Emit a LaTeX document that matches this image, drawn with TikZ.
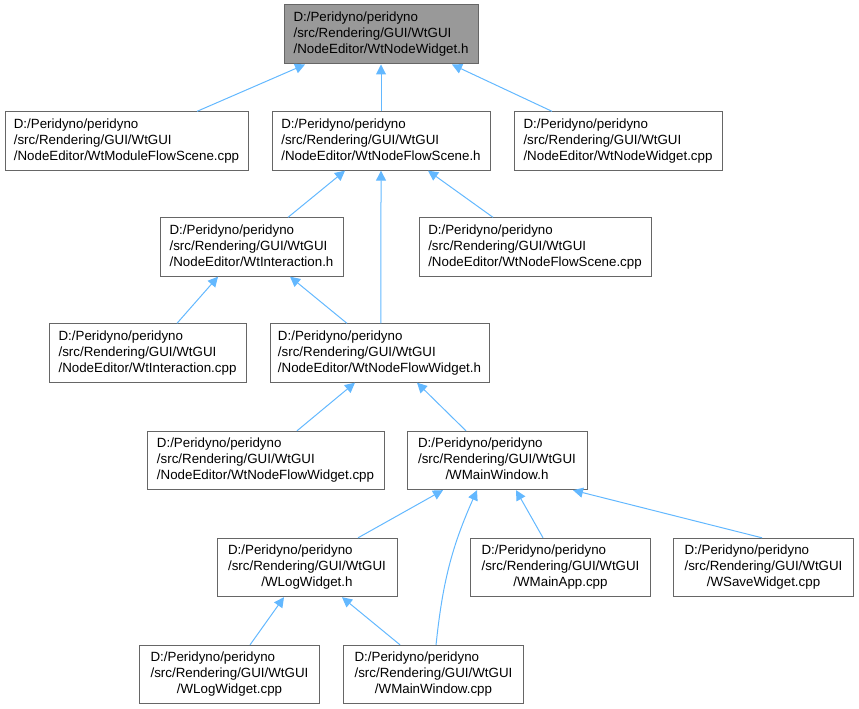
\documentclass[tikz,border=0pt]{standalone}
\usepackage{fontspec}
\setmainfont{Liberation Sans}
\usetikzlibrary{arrows.meta}
\definecolor{edgeblue}{HTML}{63B8FF}
\definecolor{boxgray}{HTML}{666666}
\definecolor{topfill}{HTML}{999999}
\newcommand{\tlines}[3]{\begin{tabular}{@{}l@{}}#1\\#2\\\multicolumn{1}{@{}c@{}}{#3}\end{tabular}}
\tikzset{
  box/.style={draw=boxgray, line width=0.75pt, fill=white, inner sep=0pt, minimum height=43.75pt, font=\fontsize{10}{12}\selectfont, text=black},
  topbox/.style={box, fill=topfill},
  edge/.style={draw=edgeblue, line width=0.75pt, -{Triangle[length=7.5pt,width=7.5pt]}}
}
\begin{document}
\begin{tikzpicture}[x=0.75pt,y=-0.75pt]
\useasboundingbox (0,0) rectangle (859,709);
\node[topbox, minimum width=145.5pt, minimum height=44.25pt] (top) at (381,34.5) {\tlines{D:/Peridyno/peridyno}{/src/Rendering/GUI/WtGUI}{/NodeEditor/WtNodeWidget.h}};
\node[box, minimum width=182.25pt] (mfs) at (126.5,141) {\tlines{D:/Peridyno/peridyno}{/src/Rendering/GUI/WtGUI}{/NodeEditor/WtModuleFlowScene.cpp}};
\node[box, minimum width=163.5pt] (nfsh) at (381,141) {\tlines{D:/Peridyno/peridyno}{/src/Rendering/GUI/WtGUI}{/NodeEditor/WtNodeFlowScene.h}};
\node[box, minimum width=156pt] (nwcpp) at (618,141) {\tlines{D:/Peridyno/peridyno}{/src/Rendering/GUI/WtGUI}{/NodeEditor/WtNodeWidget.cpp}};
\node[box, minimum width=137.25pt] (ih) at (251.5,247) {\tlines{D:/Peridyno/peridyno}{/src/Rendering/GUI/WtGUI}{/NodeEditor/WtInteraction.h}};
\node[box, minimum width=174pt] (nfscpp) at (535,247) {\tlines{D:/Peridyno/peridyno}{/src/Rendering/GUI/WtGUI}{/NodeEditor/WtNodeFlowScene.cpp}};
\node[box, minimum width=147.75pt] (icpp) at (147.5,353) {\tlines{D:/Peridyno/peridyno}{/src/Rendering/GUI/WtGUI}{/NodeEditor/WtInteraction.cpp}};
\node[box, minimum width=164.25pt] (nfwh) at (379.5,353) {\tlines{D:/Peridyno/peridyno}{/src/Rendering/GUI/WtGUI}{/NodeEditor/WtNodeFlowWidget.h}};
\node[box, minimum width=177.75pt] (nfwcpp) at (265.5,460.5) {\tlines{D:/Peridyno/peridyno}{/src/Rendering/GUI/WtGUI}{/NodeEditor/WtNodeFlowWidget.cpp}};
\node[box, minimum width=135pt] (mwh) at (497,460.5) {\tlines{D:/Peridyno/peridyno}{/src/Rendering/GUI/WtGUI}{/WMainWindow.h}};
\node[box, minimum width=135pt] (lwh) at (307,567.5) {\tlines{D:/Peridyno/peridyno}{/src/Rendering/GUI/WtGUI}{/WLogWidget.h}};
\node[box, minimum width=135pt] (mapp) at (560.5,567.5) {\tlines{D:/Peridyno/peridyno}{/src/Rendering/GUI/WtGUI}{/WMainApp.cpp}};
\node[box, minimum width=135pt] (swcpp) at (763.5,567.5) {\tlines{D:/Peridyno/peridyno}{/src/Rendering/GUI/WtGUI}{/WSaveWidget.cpp}};
\node[box, minimum width=135pt] (lwcpp) at (229.5,674.5) {\tlines{D:/Peridyno/peridyno}{/src/Rendering/GUI/WtGUI}{/WLogWidget.cpp}};
\node[box, minimum width=135pt] (mwcpp) at (433.5,674.5) {\tlines{D:/Peridyno/peridyno}{/src/Rendering/GUI/WtGUI}{/WMainWindow.cpp}};

\draw[edge] ([xshift=52.9pt]mfs.north) -- ([xshift=-57pt]top.south);
\draw[edge] (nfsh.north) -- (top.south);
\draw[edge] ([xshift=-49.5pt]nwcpp.north) -- ([xshift=53.25pt]top.south);
\draw[edge] ([xshift=27.4pt]ih.north) -- ([xshift=-27pt]nfsh.south);
\draw[edge] ([xshift=1.1pt]nfwh.north) -- (nfsh.south);
\draw[edge] ([xshift=-31.5pt]nfscpp.north) -- ([xshift=35.25pt]nfsh.south);
\draw[edge] ([xshift=22.1pt]icpp.north) -- ([xshift=-25.1pt]ih.south);
\draw[edge] ([xshift=-24.4pt]nfwh.north) -- ([xshift=28.9pt]ih.south);
\draw[edge] ([xshift=23.6pt]nfwcpp.north) -- ([xshift=-18.4pt]nfwh.south);
\draw[edge] ([xshift=-23.25pt]mwh.north) -- ([xshift=28.1pt]nfwh.south);
\draw[edge] ([xshift=38.25pt]lwh.north) -- ([xshift=-40.5pt]mwh.south);
\draw[edge] ([xshift=-13.1pt]mapp.north) -- ([xshift=14.25pt]mwh.south);
\draw[edge] ([xshift=-1.1pt]swcpp.north) -- ([xshift=57pt]mwh.south);
\draw[edge] ([xshift=15.4pt]lwcpp.north) -- ([xshift=-17.25pt]lwh.south);
\draw[edge] ([xshift=-25.1pt]mwcpp.north) -- ([xshift=26.25pt]lwh.south);
\draw[edge] ([xshift=1.9pt]mwcpp.north) to[out=84,in=-114] ([xshift=-15pt]mwh.south);
\end{tikzpicture}
\end{document}
